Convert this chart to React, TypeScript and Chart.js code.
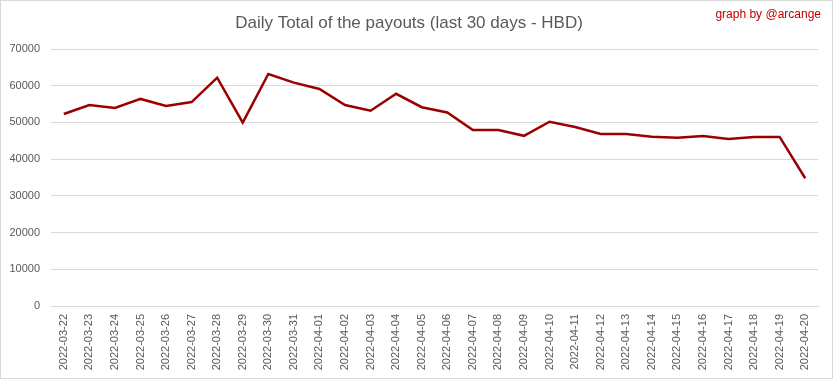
import React, { useEffect, useRef } from "react";
import { Chart, registerables } from "chart.js";

Chart.register(...registerables);

const dates = [
  "2022-03-22", "2022-03-23", "2022-03-24", "2022-03-25", "2022-03-26", "2022-03-27",
  "2022-03-28", "2022-03-29", "2022-03-30", "2022-03-31", "2022-04-01", "2022-04-02",
  "2022-04-03", "2022-04-04", "2022-04-05", "2022-04-06", "2022-04-07", "2022-04-08",
  "2022-04-09", "2022-04-10", "2022-04-11", "2022-04-12", "2022-04-13", "2022-04-14",
  "2022-04-15", "2022-04-16", "2022-04-17", "2022-04-18", "2022-04-19", "2022-04-20",
];

const payouts = [
  52300, 54750, 53950, 56400, 54500, 55550,
  62200, 49950, 63200, 60850, 59100, 54750,
  53200, 57800, 54150, 52700, 47950, 47950,
  46350, 50200, 48750, 46850, 46850, 46100,
  45800, 46300, 45500, 46050, 46050, 34800,
];

const titleText = "Daily Total of the payouts (last 30 days - HBD)";
const creditText = "graph by @arcange";

const FONT = "'Liberation Sans', Arial, sans-serif";

export default function App() {
  const ref = useRef<HTMLCanvasElement | null>(null);

  useEffect(() => {
    document.body.style.margin = "0";
    const canvas = ref.current;
    if (!canvas) return;

    const framePlugin = {
      id: "frame",
      afterDraw(chart: any) {
        const ctx = chart.ctx;
        ctx.save();
        ctx.strokeStyle = "#d9d9d9";
        ctx.lineWidth = 1;
        ctx.strokeRect(0.5, 0.5, chart.width - 1, chart.height - 1);
        ctx.fillStyle = "#c00000";
        ctx.font = `12px ${FONT}`;
        ctx.textAlign = "right";
        ctx.textBaseline = "middle";
        ctx.fillText(creditText, chart.width - 12, 15);
        ctx.restore();
      },
    };

    const chart = new Chart(canvas, {
      type: "line",
      data: {
        labels: dates,
        datasets: [
          {
            label: "HBD",
            data: payouts,
            borderColor: "#9b0000",
            borderWidth: 2.5,
            pointRadius: 0,
            tension: 0,
            fill: false,
          },
        ],
      },
      options: {
        animation: false,
        responsive: false,
        layout: { padding: { left: 0, right: 15, top: 0, bottom: 0 } },
        plugins: {
          legend: { display: false },
          tooltip: { enabled: false },
          title: {
            display: true,
            text: titleText,
            color: "#595959",
            font: { family: FONT, size: 17, weight: "normal", lineHeight: 1.2 },
            padding: { top: 13, bottom: 15.6 },
          },
        },
        scales: {
          x: {
            offset: true,
            grid: { display: false, drawTicks: false },
            border: { display: true, color: "#d9d9d9", width: 1 },
            ticks: {
              color: "#595959",
              font: { family: FONT, size: 11 },
              minRotation: 90,
              maxRotation: 90,
              padding: 8,
              autoSkip: false,
            },
            afterFit(scale: any) {
              scale.height = 73;
            },
          },
          y: {
            min: 0,
            max: 70000,
            grid: { color: "#d9d9d9", drawTicks: false },
            border: { display: false },
            ticks: {
              stepSize: 10000,
              color: "#595959",
              font: { family: FONT, size: 11 },
              padding: 11,
              callback: (v: any) => String(v),
            },
            afterFit(scale: any) {
              scale.width = 51;
            },
          },
        },
      },
      plugins: [framePlugin],
    });

    return () => chart.destroy();
  }, []);

  return <canvas ref={ref} width={833} height={379} style={{ display: "block" }} />;
}
